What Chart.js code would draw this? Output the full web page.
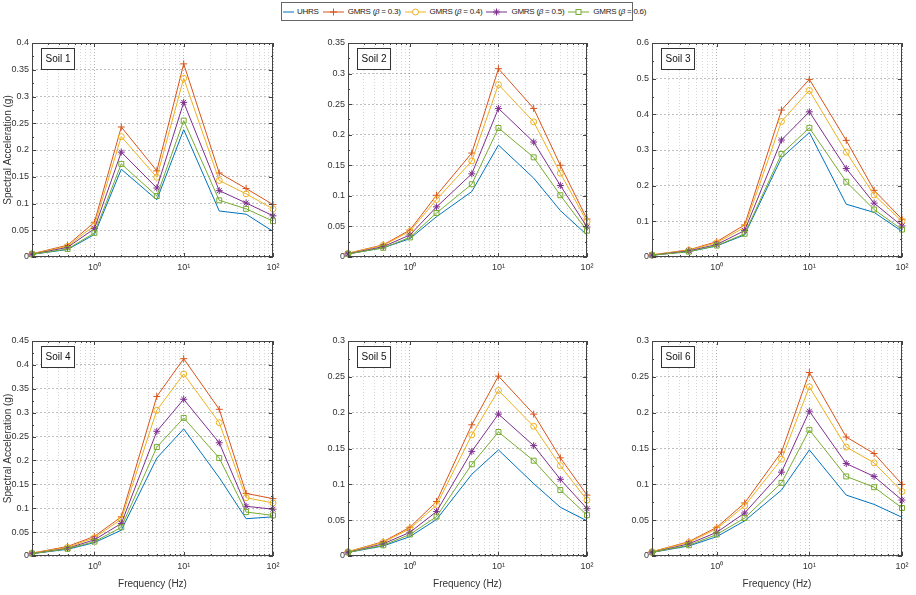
<!DOCTYPE html>
<html>
<head>
<meta charset="utf-8">
<script src="https://cdn.jsdelivr.net/npm/chart.js@4.4.1/dist/chart.umd.min.js"></script>
<style>
  body { margin: 0; background: #fff; width: 916px; height: 595px; position: relative; overflow: hidden;
         font-family: "Liberation Sans", Arial, sans-serif; }
  canvas { position: absolute; }
  #legend { position: absolute; left: 281px; top: 2px; width: 352px; height: 19px; box-sizing: border-box;
            border: 1px solid #666; background: #fff; display: flex; align-items: center; padding-left: 1px;
            font-size: 8px; letter-spacing: -0.25px; color: #222; white-space: nowrap; }
  #legend .item { display: flex; align-items: center; margin-right: 4px; }
  #legend svg { margin-right: 4px; }
</style>
</head>
<body>
<div id="legend"></div>
<script>
// frequencies (Hz)
const freq = [0.2, 0.5, 1, 2, 5, 10, 25, 50, 100];
const seriesNames = ['UHRS', 'GMRS (β = 0.3)', 'GMRS (β = 0.4)', 'GMRS (β = 0.5)', 'GMRS (β = 0.6)'];
const xGridTicks = [0.2, 0.3, 0.4, 0.5, 0.6, 0.7, 0.8, 0.9, 1, 2, 3, 4, 5, 6, 7, 8, 9,
                    10, 20, 30, 40, 50, 60, 70, 80, 90, 100];
const xTickLabels = { 1: '10⁰', 10: '10¹', 100: '10²' };

// each soil: UHRS, GMRS b=0.3, 0.4, 0.5, 0.6
const soil1 = [
  [0.005, 0.014, 0.042, 0.164, 0.107, 0.238, 0.086, 0.080, 0.048],
  [0.006, 0.022, 0.065, 0.243, 0.161, 0.361, 0.157, 0.128, 0.098],
  [0.006, 0.020, 0.059, 0.225, 0.149, 0.334, 0.143, 0.118, 0.090],
  [0.005, 0.018, 0.053, 0.196, 0.129, 0.289, 0.124, 0.101, 0.077],
  [0.005, 0.015, 0.045, 0.174, 0.114, 0.255, 0.106, 0.090, 0.067]
];
const soil2 = [
  [0.005, 0.015, 0.030, 0.066, 0.107, 0.183, 0.129, 0.076, 0.036],
  [0.006, 0.020, 0.044, 0.101, 0.170, 0.308, 0.243, 0.150, 0.062],
  [0.006, 0.019, 0.042, 0.094, 0.157, 0.282, 0.221, 0.137, 0.058],
  [0.005, 0.017, 0.036, 0.082, 0.136, 0.243, 0.188, 0.117, 0.049],
  [0.005, 0.015, 0.032, 0.072, 0.119, 0.211, 0.163, 0.101, 0.043]
];
const soil3 = [
  [0.005, 0.015, 0.031, 0.062, 0.278, 0.349, 0.148, 0.125, 0.072],
  [0.006, 0.020, 0.043, 0.090, 0.412, 0.498, 0.327, 0.187, 0.106],
  [0.006, 0.019, 0.040, 0.083, 0.380, 0.467, 0.294, 0.174, 0.100],
  [0.005, 0.017, 0.035, 0.074, 0.328, 0.407, 0.248, 0.151, 0.087],
  [0.005, 0.015, 0.032, 0.065, 0.289, 0.362, 0.211, 0.133, 0.077]
];
const soil4 = [
  [0.005, 0.014, 0.028, 0.054, 0.205, 0.266, 0.164, 0.078, 0.082],
  [0.006, 0.020, 0.041, 0.082, 0.334, 0.413, 0.307, 0.131, 0.120],
  [0.006, 0.018, 0.038, 0.077, 0.305, 0.381, 0.279, 0.122, 0.111],
  [0.005, 0.016, 0.034, 0.068, 0.261, 0.328, 0.237, 0.104, 0.098],
  [0.005, 0.015, 0.030, 0.060, 0.228, 0.289, 0.205, 0.092, 0.085]
];
const soil5 = [
  [0.005, 0.014, 0.027, 0.051, 0.114, 0.148, 0.101, 0.068, 0.049],
  [0.006, 0.020, 0.040, 0.076, 0.183, 0.251, 0.198, 0.137, 0.085],
  [0.006, 0.019, 0.038, 0.071, 0.169, 0.231, 0.181, 0.126, 0.078],
  [0.005, 0.017, 0.033, 0.062, 0.146, 0.198, 0.154, 0.107, 0.066],
  [0.005, 0.015, 0.030, 0.055, 0.128, 0.173, 0.133, 0.092, 0.057]
];
const soil6 = [
  [0.005, 0.014, 0.027, 0.049, 0.092, 0.148, 0.085, 0.072, 0.054],
  [0.006, 0.020, 0.040, 0.074, 0.145, 0.256, 0.166, 0.143, 0.100],
  [0.006, 0.019, 0.038, 0.070, 0.135, 0.236, 0.152, 0.130, 0.090],
  [0.005, 0.017, 0.033, 0.060, 0.117, 0.202, 0.129, 0.111, 0.078],
  [0.005, 0.015, 0.030, 0.053, 0.102, 0.176, 0.111, 0.096, 0.067]
];
const soilNames = ['Soil 1', 'Soil 2', 'Soil 3', 'Soil 4', 'Soil 5', 'Soil 6'];
const yMax = [0.4, 0.35, 0.6, 0.45, 0.3, 0.3];
const yStep = [0.05, 0.05, 0.1, 0.05, 0.05, 0.05];

const soils = [soil1, soil2, soil3, soil4, soil5, soil6];

const styles = [
  { color: '#0072BD', pointStyle: false, r: 0 },
  { color: '#D95319', pointStyle: 'cross', r: 3.5 },
  { color: '#EDB120', pointStyle: 'circle', r: 3 },
  { color: '#7E2F8E', pointStyle: 'star', r: 3.5 },
  { color: '#77AC30', pointStyle: 'rect', r: 3.5 }
];

// plot area positions on the page
const cols = [{ l: 32, r: 273 }, { l: 348, r: 587 }, { l: 652, r: 902 }];
const rows = [{ t: 43, b: 257, B: 20 }, { t: 341, b: 556, B: 34 }];
const AXW = 32, PADT = 8, PADR = 10;

const textColor = '#333';
const fontFam = '"Liberation Sans", Arial, sans-serif';

// box, inward ticks and "Soil N" label
const framePlugin = {
  id: 'frame',
  afterDraw(chart, args, opts) {
    const { ctx, chartArea: a } = chart;
    const x = chart.scales.x, y = chart.scales.y;
    ctx.save();
    ctx.strokeStyle = '#444';
    ctx.lineWidth = 1;
    ctx.beginPath();
    x.ticks.forEach(t => {
      const px = Math.round(x.getPixelForValue(t.value)) + 0.5;
      const len = xTickLabels[t.value] ? 4 : 2;
      ctx.moveTo(px, a.bottom); ctx.lineTo(px, a.bottom - len);
      ctx.moveTo(px, a.top); ctx.lineTo(px, a.top + len);
    });
    y.ticks.forEach(t => {
      const py = Math.round(y.getPixelForValue(t.value)) + 0.5;
      ctx.moveTo(a.left, py); ctx.lineTo(a.left + 4, py);
      ctx.moveTo(a.right, py); ctx.lineTo(a.right - 4, py);
      const half = t.value + opts.step / 2;
      if (half < y.max) {
        const ph = Math.round(y.getPixelForValue(half)) + 0.5;
        ctx.moveTo(a.left, ph); ctx.lineTo(a.left + 2, ph);
        ctx.moveTo(a.right, ph); ctx.lineTo(a.right - 2, ph);
      }
    });
    ctx.stroke();
    ctx.strokeRect(Math.round(a.left) + 0.5, Math.round(a.top) + 0.5,
                   Math.round(a.right - a.left) - 1, Math.round(a.bottom - a.top) - 1);

    // label box
    ctx.font = '10px ' + fontFam;
    const w = ctx.measureText(opts.label).width + 8;
    const bx = Math.round(a.left) + 9.5, by = Math.round(a.top) + 5.5, bh = 21;
    ctx.fillStyle = '#fff';
    ctx.fillRect(bx, by, w, bh);
    ctx.strokeStyle = '#333';
    ctx.strokeRect(bx, by, w, bh);
    ctx.fillStyle = '#111';
    ctx.textBaseline = 'middle';
    ctx.fillText(opts.label, bx + 4, by + bh / 2 + 0.5);
    ctx.restore();
  }
};

soils.forEach((soil, k) => {
  const col = cols[k % 3], row = rows[Math.floor(k / 3)];
  const cv = document.createElement('canvas');
  const w = col.r - col.l + AXW + PADR;
  const h = row.b - row.t + PADT + row.B;
  cv.width = w; cv.height = h;
  cv.style.left = (col.l - AXW) + 'px';
  cv.style.top = (row.t - PADT) + 'px';
  cv.style.width = w + 'px'; cv.style.height = h + 'px';
  document.body.appendChild(cv);

  const datasets = soil.map((vals, i) => ({
    label: seriesNames[i],
    data: freq.map((f, j) => ({ x: f, y: vals[j] })),
    borderColor: styles[i].color,
    backgroundColor: 'transparent',
    borderWidth: 1,
    pointStyle: styles[i].pointStyle,
    pointRadius: styles[i].r,
    pointBorderWidth: 1,
    pointBorderColor: styles[i].color,
    pointBackgroundColor: 'transparent',
    tension: 0,
    order: 5 - i,
    clip: 8
  }));

  new Chart(cv, {
    type: 'line',
    data: { datasets },
    plugins: [framePlugin],
    options: {
      responsive: false,
      animation: false,
      events: [],
      devicePixelRatio: 1,
      layout: { padding: { top: PADT, right: PADR, left: 0, bottom: 0 } },
      plugins: {
        legend: { display: false },
        tooltip: { enabled: false },
        frame: { label: soilNames[k], step: yStep[k] }
      },
      scales: {
        x: {
          type: 'logarithmic',
          min: 0.2,
          max: 100,
          afterBuildTicks: s => { s.ticks = xGridTicks.map(v => ({ value: v, major: !!xTickLabels[v] })); },
          afterFit: s => { s.height = row.B; s.paddingLeft = 0; s.paddingRight = 0; },
          border: { display: false, dash: [1, 2] },
          grid: {
            drawTicks: false,
            color: c => (c.tick && xTickLabels[c.tick.value]) ? 'rgba(0,0,0,0.3)' : 'rgba(0,0,0,0.16)',
            lineWidth: 1
          },
          ticks: {
            autoSkip: false,
            maxRotation: 0,
            padding: 5,
            color: textColor,
            font: { family: fontFam, size: 9 },
            callback: v => xTickLabels[v] || ''
          },
          title: {
            display: k >= 3,
            text: 'Frequency (Hz)',
            color: textColor,
            font: { family: fontFam, size: 10 },
            padding: 0
          }
        },
        y: {
          min: 0,
          max: yMax[k],
          afterFit: s => { s.width = AXW; s.paddingTop = 0; s.paddingBottom = 0; },
          border: { display: false, dash: [2, 2] },
          grid: { drawTicks: false, color: 'rgba(0,0,0,0.25)', lineWidth: 1 },
          ticks: {
            stepSize: yStep[k],
            padding: 3,
            color: textColor,
            font: { family: fontFam, size: 9 },
            callback: v => String(Number(v.toFixed(3)))
          },
          title: {
            display: k % 3 === 0,
            text: 'Spectral Acceleration (g)',
            color: textColor,
            font: { family: fontFam, size: 10 },
            padding: 2
          }
        }
      }
    }
  });
});

// legend
const legend = document.getElementById('legend');
seriesNames.forEach((name, i) => {
  const st = styles[i];
  const lw = i === 0 ? 11 : 21;
  const cx = lw / 2;
  let marker = '';
  if (st.pointStyle === 'cross') marker = `<path d="M${cx - 3.5} 5H${cx + 3.5}M${cx} 1.5V8.5" stroke="${st.color}" fill="none"/>`;
  if (st.pointStyle === 'circle') marker = `<circle cx="${cx}" cy="5" r="3" stroke="${st.color}" fill="#fff"/>`;
  if (st.pointStyle === 'star') marker = `<path d="M${cx - 3.5} 5H${cx + 3.5}M${cx} 1.5V8.5M${cx - 2.5} 2.5L${cx + 2.5} 7.5M${cx - 2.5} 7.5L${cx + 2.5} 2.5" stroke="${st.color}" fill="none"/>`;
  if (st.pointStyle === 'rect') marker = `<rect x="${cx - 2.5}" y="2.5" width="5" height="5" stroke="${st.color}" fill="#fff"/>`;
  const item = document.createElement('div');
  item.className = 'item';
  item.innerHTML = `<svg width="${lw}" height="10"><line x1="0" y1="5" x2="${lw}" y2="5" stroke="${st.color}" stroke-width="1"/>${marker}</svg>` +
    `<span>${name.replace('β', '<i>β</i>')}</span>`;
  if (i === 0) item.querySelector('svg').style.marginRight = '3px';
  legend.appendChild(item);
});
</script>
</body>
</html>
